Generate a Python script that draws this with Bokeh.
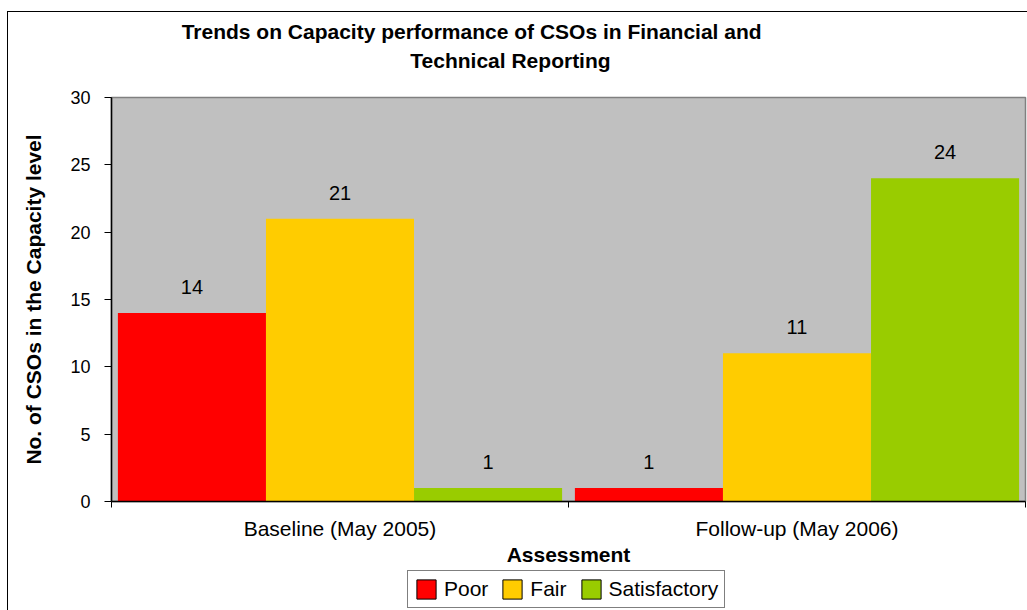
import numpy as np
from bokeh.plotting import figure
from bokeh.layouts import column
from bokeh.models import (ColumnDataSource, Range1d, FixedTicker, LabelSet, Label,
                          Legend, LegendItem)
from bokeh.core.properties import value
from bokeh.transform import dodge
from bokeh.embed import file_html
from bokeh.resources import INLINE

# ---- data ----
categories = ["Baseline (May 2005)", "Follow-up (May 2006)"]
series = ["Poor", "Fair", "Satisfactory"]
poor = [14, 1]
fair = [21, 11]
satisfactory = [1, 24]
colors = ["#FF0000", "#FFCC00", "#99CC00"]
y_ticks = [0, 5, 10, 15, 20, 25, 30]
y_max = 30

title_line1 = "Trends on Capacity performance of CSOs in Financial and"
title_line2 = "Technical Reporting"
x_title = "Assessment"
y_title = "No. of CSOs in the Capacity level"

FONT = "Liberation Sans"


def strip(height):
    f = figure(width=1019, height=height, output_backend="svg", toolbar_location=None,
               x_range=Range1d(0, len(categories)), y_range=Range1d(0, 1),
               x_axis_location=None, y_axis_location=None,
               min_border_left=0, min_border_right=0, min_border_top=0, min_border_bottom=0)
    f.background_fill_color = "white"
    f.border_fill_color = "white"
    f.outline_line_color = None
    f.xgrid.visible = False
    f.ygrid.visible = False
    return f


# ---- title strip ----
top = strip(75)
top.add_layout(Label(x=0.788, y=0.747, text=title_line1, text_align="center",
                     text_baseline="middle", text_font=FONT, text_font_size="21px",
                     text_font_style="bold", text_color="black"))
top.add_layout(Label(x=0.873, y=0.36, text=title_line2, text_align="center",
                     text_baseline="middle", text_font=FONT, text_font_size="21px",
                     text_font_style="bold", text_color="black"))

# ---- main chart ----
idx = np.arange(len(categories)) + 0.5
src = ColumnDataSource(dict(idx=idx, Poor=poor, Fair=fair, Satisfactory=satisfactory,
                            Poor_t=[str(v) for v in poor],
                            Fair_t=[str(v) for v in fair],
                            Satisfactory_t=[str(v) for v in satisfactory]))

p = figure(width=1019, height=481, output_backend="svg", toolbar_location=None,
           x_range=top.x_range, y_range=Range1d(0, y_max),
           min_border_left=103, min_border_top=10, min_border_right=2, min_border_bottom=65)
p.background_fill_color = "#C0C0C0"
p.border_fill_color = "white"
p.outline_line_color = "#808080"
p.outline_line_width = 1.5
p.xgrid.visible = False
p.ygrid.visible = False

bw = 0.324
offsets = [-bw, 0.0, bw]
for s, c, off in zip(series, colors, offsets):
    p.vbar(x=dodge("idx", off), top=s, width=bw, source=src,
           fill_color=c, line_color=None)
    ls = LabelSet(x=dodge("idx", off), y=s, text=s + "_t", source=src,
                  text_align="center", text_baseline="middle", y_offset=26,
                  text_font=value(FONT), text_font_size="20px", text_color="black")
    p.add_layout(ls)

xa = p.xaxis[0]
xa.ticker = FixedTicker(ticks=list(idx), minor_ticks=list(range(len(categories) + 1)))
xa.major_label_overrides = {float(v): c for v, c in zip(idx, categories)}
xa.major_tick_out = 0
xa.major_tick_in = 0
xa.minor_tick_out = 6
xa.minor_tick_in = 0
xa.minor_tick_line_color = "black"
xa.axis_line_color = "black"
xa.axis_line_width = 1.5
xa.major_label_text_font = FONT
xa.major_label_text_font_size = "21px"
xa.major_label_text_color = "black"
xa.major_label_standoff = 9
xa.axis_label = x_title
xa.axis_label_text_font = FONT
xa.axis_label_text_font_size = "21px"
xa.axis_label_text_font_style = "bold"
xa.axis_label_text_color = "black"
xa.axis_label_standoff = 0

ya = p.yaxis[0]
ya.ticker = FixedTicker(ticks=y_ticks, minor_ticks=[])
ya.major_tick_out = 7
ya.major_tick_in = 0
ya.minor_tick_out = 0
ya.axis_line_color = "black"
ya.axis_line_width = 1.5
ya.major_tick_line_color = "black"
ya.major_label_text_font = FONT
ya.major_label_text_font_size = "18px"
ya.major_label_text_color = "black"
ya.major_label_standoff = 14
ya.axis_label = y_title
ya.axis_label_text_font = FONT
ya.axis_label_text_font_size = "21px"
ya.axis_label_text_font_style = "bold"
ya.axis_label_text_color = "black"
ya.axis_label_standoff = 22

# ---- legend strip ----
lg = strip(42)
swatch_src = ColumnDataSource(dict(x=[-1.0], top=[0.0]))  # outside the strip's range
proxies = [lg.vbar(x="x", top="top", width=0.1, source=swatch_src, fill_color=c,
                   line_color="black", line_width=1) for c in colors]

legend = Legend(items=[LegendItem(label=s, renderers=[r]) for s, r in zip(series, proxies)],
                orientation="horizontal", location=(296, 2))
legend.border_line_color = "black"
legend.border_line_width = 1
legend.background_fill_color = "white"
legend.background_fill_alpha = 1
legend.label_text_font = FONT
legend.label_text_font_size = "21px"
legend.label_text_color = "black"
legend.glyph_width = 24
legend.glyph_height = 24
legend.label_height = 24
legend.label_standoff = 6
legend.spacing = 12
legend.padding = 6
legend.margin = 0
lg.add_layout(legend, "center")

layout = column(top, p, lg, spacing=0)
layout.margin = (12, 0, 0, 8)
layout.styles = {"outline": "1px solid black"}

open("out.html", "w").write(file_html(layout, INLINE))
